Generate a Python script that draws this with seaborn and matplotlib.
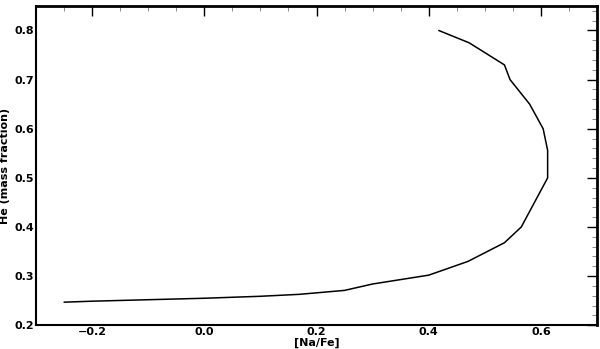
import matplotlib
matplotlib.use("Agg")
import matplotlib.pyplot as plt
import seaborn as sns
import pandas as pd
from matplotlib.ticker import MultipleLocator

na_fe = [-0.25, -0.2, -0.1, 0.0, 0.1, 0.17, 0.25, 0.3, 0.4, 0.47, 0.535, 0.565,
         0.612, 0.612, 0.604, 0.58, 0.545, 0.535, 0.472, 0.418]
he = [0.247, 0.249, 0.252, 0.255, 0.259, 0.263, 0.271, 0.284, 0.302, 0.33, 0.368, 0.40,
      0.50, 0.556, 0.60, 0.65, 0.70, 0.73, 0.775, 0.80]

df = pd.DataFrame({"na_fe": na_fe, "he": he, "order": range(len(he))})

sns.set_style("white")
plt.rcParams["font.family"] = ["DejaVu Sans"]
plt.rcParams["font.weight"] = "bold"

fig, ax = plt.subplots(figsize=(6.0, 3.49), dpi=100)
fig.subplots_adjust(left=0.06, right=0.995, top=0.983, bottom=0.068)

sns.lineplot(data=df, x="na_fe", y="he", sort=False, estimator=None,
             color="black", linewidth=1.1, ax=ax)

ax.set_xlim(-0.3, 0.7)
ax.set_ylim(0.2, 0.85)
ax.xaxis.set_major_locator(MultipleLocator(0.2))
ax.xaxis.set_minor_locator(MultipleLocator(0.05))
ax.yaxis.set_major_locator(MultipleLocator(0.1))
ax.yaxis.set_minor_locator(MultipleLocator(0.02))
ax.tick_params(which="both", direction="in", top=True, right=True, colors="black",
               labelsize=8)
ax.tick_params(which="major", length=7, width=1, pad=1.5)
ax.tick_params(which="minor", length=3.5, width=0.6, color="#777777")
for lab in ax.get_xticklabels() + ax.get_yticklabels():
    lab.set_fontweight("bold")
for s in ax.spines.values():
    s.set_color("black")
    s.set_linewidth(1.5)
ax.spines["top"].set_linewidth(2)
ax.spines["right"].set_linewidth(2)

ax.set_xlabel("[Na/Fe]", fontsize=8, fontweight="bold", color="black")
ax.set_ylabel("He (mass fraction)", fontsize=8, fontweight="bold", color="black")
ax.xaxis.set_label_coords(0.5, -0.038)
ax.yaxis.set_label_coords(-0.047, 0.5)

fig.savefig("out.png", dpi=100)
